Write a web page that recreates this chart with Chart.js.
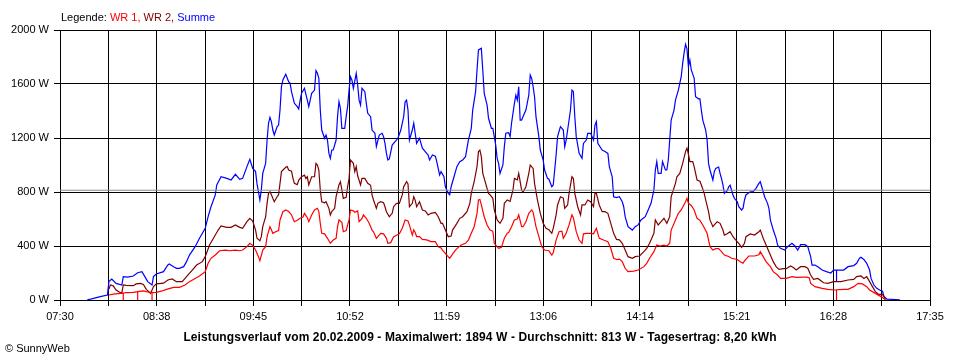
<!DOCTYPE html>
<html>
<head>
<meta charset="utf-8">
<script src="https://cdn.jsdelivr.net/npm/chart.js@4.4.1/dist/chart.umd.min.js"></script>
<style>
  body { margin: 0; background: #fff; }
  #wrap { position: relative; width: 960px; height: 360px; font-family: "Liberation Sans", Arial, sans-serif; }
  #chart { position: absolute; left: 0; top: 0; }
  .txt { position: absolute; white-space: nowrap; font-size: 11px; line-height: 12px; color: #000; }
  #legend { left: 61px; top: 11px; }
  #title { left: 0; width: 960px; top: 331px; text-align: center; font-weight: bold; font-size: 12px; line-height: 13px; letter-spacing: 0.1px; }
  #copy { left: 5px; top: 342px; }
</style>
</head>
<body>
<div id="wrap">
  <canvas id="chart" width="960" height="360"></canvas>
  <div class="txt" id="legend">Legende: <span style="color:#ff0000">WR 1,</span> <span style="color:#800000">WR 2,</span> <span style="color:#0000ff">Summe</span></div>
  <div class="txt" id="title"></div>
  <div class="txt" id="copy">© SunnyWeb</div>
</div>
<script>
// Tagesverlauf 20.02.2009 (Werte in W)
const dayLabel = '20.02.2009';
const maxWatt = 1894;
const avgWatt = 813;
const dayYield = '8,20';

const timeLabels = ['07:30', '08:38', '09:45', '10:52', '11:59', '13:06', '14:14', '15:21', '16:28', '17:35'];
const yTicks = [0, 400, 800, 1200, 1600, 2000];

const sumTimes = ['07:49','07:52','07:58','08:03','08:04','08:06','08:09','08:13','08:14','08:17','08:21','08:24','08:27','08:29','08:31','08:34','08:35','08:37','08:42','08:45','08:46','08:49','08:51','08:53','08:56','08:58','09:00','09:04','09:07','09:11','09:13','09:15','09:18','09:19','09:22','09:26','09:29','09:32','09:35','09:37','09:40','09:42','09:44','09:46','09:47','09:49','09:50','09:51','09:53','09:54','09:55','09:56','09:57','09:58','09:59','10:01','10:02','10:03','10:04','10:05','10:07','10:09','10:10','10:11','10:13','10:15','10:16','10:17','10:18','10:20','10:22','10:23','10:25','10:27','10:28','10:29','10:30','10:31','10:32','10:34','10:35','10:36','10:37','10:38','10:39','10:40','10:42','10:43','10:44','10:45','10:46','10:48','10:49','10:50','10:51','10:52','10:53','10:54','10:56','10:57','10:58','10:59','11:00','11:02','11:03','11:04','11:06','11:07','11:09','11:10','11:12','11:14','11:15','11:16','11:17','11:18','11:19','11:21','11:23','11:25','11:27','11:29','11:30','11:31','11:32','11:33','11:35','11:36','11:37','11:38','11:40','11:42','11:44','11:46','11:47','11:49','11:51','11:52','11:54','11:55','11:57','11:58','12:00','12:01','12:02','12:04','12:06','12:08','12:10','12:12','12:14','12:16','12:17','12:19','12:20','12:21','12:23','12:24','12:25','12:27','12:28','12:30','12:31','12:32','12:33','12:34','12:35','12:36','12:38','12:39','12:40','12:42','12:43','12:44','12:46','12:47','12:48','12:49','12:50','12:51','12:53','12:54','12:56','12:57','12:58','12:59','13:00','13:01','13:03','13:04','13:06','13:07','13:09','13:10','13:12','13:13','13:14','13:15','13:16','13:18','13:20','13:21','13:22','13:23','13:25','13:26','13:27','13:28','13:29','13:31','13:33','13:34','13:36','13:37','13:39','13:41','13:42','13:43','13:44','13:47','13:49','13:51','13:52','13:54','13:55','13:57','13:59','14:01','14:02','14:03','14:05','14:08','14:10','14:12','14:14','14:17','14:19','14:21','14:23','14:24','14:25','14:26','14:28','14:29','14:31','14:32','14:33','14:34','14:35','14:37','14:38','14:40','14:41','14:42','14:43','14:44','14:45','14:46','14:47','14:48','14:49','14:51','14:52','14:54','14:55','14:56','14:57','14:59','15:00','15:01','15:02','15:04','15:05','15:06','15:08','15:09','15:10','15:11','15:12','15:14','15:15','15:16','15:18','15:19','15:21','15:22','15:24','15:25','15:26','15:27','15:30','15:32','15:34','15:36','15:37','15:39','15:40','15:42','15:43','15:44','15:46','15:48','15:49','15:51','15:54','15:56','15:59','16:01','16:03','16:05','16:08','16:10','16:12','16:13','16:15','16:17','16:20','16:23','16:26','16:28','16:30','16:30','16:30','16:31','16:35','16:38','16:42','16:44','16:46','16:47','16:49','16:51','16:53','16:54','16:56','16:58','17:00','17:02','17:03','17:05','17:14'];
const sumWatts = [2,8,25,37,136,155,123,111,173,170,178,202,210,173,136,111,173,193,210,259,267,247,235,235,247,284,333,395,457,531,617,691,778,852,913,901,889,931,894,901,988,1042,975,951,860,741,815,938,1012,1185,1309,1353,1321,1259,1222,1284,1296,1407,1580,1630,1672,1617,1605,1543,1457,1432,1415,1481,1531,1568,1481,1432,1531,1555,1699,1679,1642,1407,1259,1198,1222,1185,1086,1049,1111,1111,1185,1358,1469,1420,1272,1272,1358,1432,1555,1654,1630,1568,1679,1592,1481,1444,1568,1543,1457,1383,1358,1259,1235,1136,1222,1235,1210,1160,1086,1037,1045,1148,1173,1198,1259,1358,1469,1481,1407,1185,1259,1309,1235,1160,1198,1124,1099,1074,1037,1074,1065,1025,926,951,913,839,790,780,839,913,988,1025,1037,1062,1185,1272,1407,1543,1704,1852,1864,1704,1531,1444,1346,1272,1272,1210,1148,1049,1012,938,1000,1136,1235,1240,1210,1309,1457,1518,1481,1580,1333,1333,1383,1407,1518,1667,1642,1580,1506,1358,1210,1111,1037,963,901,895,839,852,963,1074,1210,1284,1259,1136,1185,1259,1407,1555,1545,1358,1210,1086,1049,1160,1185,1235,1235,1185,1296,1321,1160,1111,1100,1086,988,913,765,758,765,728,691,617,543,518,543,556,593,617,667,716,815,963,1025,938,938,1025,963,963,1037,1185,1333,1407,1481,1555,1605,1654,1753,1830,1894,1860,1728,1778,1704,1642,1506,1490,1490,1407,1333,1259,1185,1012,963,889,950,975,985,938,900,852,790,810,839,850,778,753,728,691,667,680,741,778,802,802,827,864,876,802,765,716,679,593,518,457,407,383,370,395,420,400,370,410,410,395,321,259,259,247,222,210,200,222,222,136,222,222,222,247,255,272,309,316,300,272,222,160,111,86,74,65,25,7,2];

const wr2Times = ['08:04','08:05','08:07','08:09','08:12','08:13','08:14','08:16','08:21','08:23','08:26','08:28','08:30','08:33','08:35','08:37','08:42','08:45','08:48','08:51','08:55','08:58','09:02','09:05','09:09','09:11','09:14','09:18','09:20','09:22','09:26','09:29','09:32','09:35','09:37','09:40','09:42','09:44','09:46','09:47','09:49','09:50','09:51','09:53','09:54','09:55','09:56','09:57','09:58','09:59','10:01','10:02','10:03','10:04','10:07','10:08','10:09','10:11','10:12','10:13','10:15','10:16','10:18','10:20','10:21','10:22','10:23','10:25','10:27','10:28','10:29','10:30','10:31','10:32','10:34','10:35','10:37','10:38','10:39','10:41','10:42','10:44','10:45','10:46','10:47','10:49','10:50','10:51','10:52','10:54','10:55','10:56','10:57','10:59','11:00','11:02','11:04','11:06','11:07','11:08','11:10','11:11','11:13','11:15','11:16','11:17','11:19','11:21','11:22','11:24','11:26','11:28','11:29','11:31','11:32','11:33','11:35','11:36','11:37','11:38','11:40','11:42','11:44','11:46','11:48','11:51','11:53','11:55','11:56','11:58','12:00','12:02','12:03','12:06','12:08','12:10','12:13','12:15','12:16','12:18','12:20','12:21','12:22','12:23','12:24','12:26','12:28','12:29','12:31','12:32','12:34','12:36','12:38','12:39','12:41','12:43','12:45','12:46','12:48','12:49','12:51','12:52','12:54','12:56','12:57','12:59','13:00','13:02','13:04','13:06','13:08','13:10','13:12','13:13','13:15','13:16','13:18','13:20','13:21','13:23','13:24','13:26','13:27','13:28','13:30','13:32','13:33','13:35','13:37','13:39','13:41','13:42','13:43','13:45','13:47','13:49','13:51','13:53','13:55','13:57','13:59','14:01','14:03','14:05','14:08','14:10','14:13','14:16','14:18','14:20','14:23','14:24','14:26','14:28','14:30','14:32','14:34','14:35','14:38','14:39','14:41','14:43','14:45','14:46','14:47','14:48','14:50','14:51','14:53','14:55','14:56','14:58','14:59','15:01','15:02','15:04','15:05','15:07','15:09','15:11','15:12','15:14','15:16','15:18','15:20','15:22','15:24','15:26','15:27','15:30','15:33','15:36','15:37','15:39','15:41','15:44','15:46','15:48','15:50','15:53','15:55','15:58','16:00','16:02','16:05','16:08','16:10','16:12','16:14','16:17','16:21','16:24','16:28','16:33','16:38','16:42','16:44','16:47','16:49','16:51','16:53','16:55','16:57','16:59','17:02','17:03','17:04'];
const wr2Watts = [80,111,105,74,54,52,111,108,106,119,123,115,79,49,99,119,125,148,156,136,136,173,222,259,284,321,407,481,518,548,538,538,556,538,531,580,605,585,518,457,439,469,543,617,716,790,802,780,753,728,765,780,864,951,983,988,963,955,901,864,855,889,913,925,900,913,852,913,913,1012,1000,963,815,728,720,728,679,630,655,679,765,852,876,815,753,760,839,900,1037,1012,951,988,920,852,901,901,864,850,778,741,679,716,728,720,691,654,617,642,691,716,716,778,839,876,860,691,716,765,740,691,728,667,660,630,642,648,617,568,568,518,469,474,518,568,605,617,654,716,790,876,988,1099,1110,1062,938,864,790,780,753,667,593,568,605,716,741,730,815,901,890,938,815,800,839,938,1000,975,864,741,642,568,531,520,494,531,630,704,765,755,679,704,790,913,900,790,691,630,704,704,741,728,691,790,790,704,654,654,642,568,494,449,445,420,370,321,309,321,326,358,383,420,494,593,556,580,605,568,617,765,864,913,938,1012,1099,1124,1080,1025,1025,988,889,880,852,790,741,654,593,543,556,580,568,518,481,490,506,469,444,420,390,420,469,489,481,506,518,457,407,333,284,247,227,232,232,252,240,222,247,247,235,185,153,160,128,123,136,136,148,153,173,178,160,173,136,99,62,44,40,25,2];

const wr1Times = ['08:04','08:07','08:12','08:14','08:14','08:14','08:16','08:21','08:23','08:24','08:24','08:24','08:28','08:30','08:33','08:34','08:34','08:34','08:37','08:41','08:44','08:49','08:53','08:57','09:00','09:04','09:07','09:11','09:13','09:15','09:18','09:21','09:25','09:28','09:32','09:35','09:37','09:40','09:42','09:44','09:46','09:48','09:49','09:51','09:53','09:54','09:56','09:57','09:58','10:00','10:02','10:03','10:05','10:07','10:09','10:11','10:13','10:15','10:17','10:19','10:20','10:22','10:23','10:25','10:27','10:29','10:30','10:31','10:32','10:34','10:36','10:38','10:40','10:42','10:43','10:44','10:46','10:47','10:49','10:51','10:52','10:54','10:55','10:57','10:58','11:00','11:01','11:03','11:05','11:07','11:08','11:10','11:13','11:15','11:17','11:18','11:20','11:22','11:24','11:26','11:28','11:30','11:32','11:33','11:35','11:36','11:37','11:38','11:40','11:42','11:45','11:48','11:51','11:53','11:55','11:56','11:59','12:01','12:02','12:05','12:07','12:09','12:12','12:14','12:16','12:18','12:20','12:21','12:22','12:23','12:25','12:27','12:29','12:31','12:32','12:35','12:37','12:39','12:41','12:42','12:44','12:46','12:48','12:49','12:51','12:52','12:54','12:56','12:58','12:59','13:01','13:03','13:05','13:07','13:10','13:12','13:13','13:15','13:17','13:19','13:20','13:22','13:24','13:26','13:27','13:29','13:31','13:33','13:34','13:36','13:39','13:41','13:43','13:45','13:48','13:51','13:53','13:55','13:57','13:59','14:01','14:03','14:05','14:09','14:12','14:16','14:18','14:20','14:23','14:25','14:27','14:30','14:32','14:34','14:35','14:38','14:40','14:42','14:45','14:46','14:47','14:49','14:51','14:53','14:55','14:57','15:00','15:02','15:04','15:06','15:08','15:10','15:12','15:15','15:17','15:21','15:23','15:25','15:26','15:29','15:33','15:36','15:37','15:39','15:41','15:44','15:46','15:49','15:51','15:55','15:59','16:02','16:06','16:09','16:11','16:12','16:15','16:20','16:24','16:29','16:30','16:30','16:30','16:35','16:38','16:42','16:45','16:48','16:51','16:53','16:57','17:01','17:04'];
const wr1Watts = [37,44,49,50,0,52,54,56,60,60,0,62,67,62,57,57,0,55,57,67,79,94,94,111,136,160,178,210,272,309,333,365,370,365,370,365,370,395,420,405,370,321,291,370,395,469,543,520,494,505,515,593,654,667,655,630,580,590,605,615,642,610,580,630,667,679,655,568,494,490,457,420,444,457,543,593,575,506,515,593,667,660,650,660,580,605,630,605,568,518,505,457,494,490,457,420,425,469,480,490,531,593,585,555,481,520,500,470,470,449,445,432,432,395,385,370,333,309,325,370,390,407,420,444,494,543,642,741,745,704,617,556,518,510,420,383,390,457,494,500,543,593,600,630,543,543,580,642,667,650,543,469,395,370,365,333,350,444,506,510,457,494,556,630,610,506,444,420,490,494,494,490,531,457,444,432,383,309,300,303,284,235,210,214,222,247,272,309,358,407,400,407,400,420,518,593,642,667,728,753,716,700,667,605,590,556,494,395,370,380,380,358,333,322,309,300,284,272,290,326,326,335,358,321,284,247,210,185,160,160,173,168,170,170,165,123,99,86,79,74,74,0,76,79,79,99,123,119,99,74,49,25,2];

const toMin = s => { const p = s.split(':'); return Number(p[0]) * 60 + Number(p[1]); };
const pts = (times, watts) => times.map((t, i) => ({ x: toMin(t), y: watts[i] }));

const xMin = toMin(timeLabels[0]);
const xMax = toMin(timeLabels[timeLabels.length - 1]);
const xGridSteps = (timeLabels.length - 1) * 2;

document.getElementById('title').textContent =
  'Leistungsverlauf vom ' + dayLabel + ' - Maximalwert: ' + maxWatt + ' W - Durchschnitt: ' +
  avgWatt + ' W - Tagesertrag: ' + dayYield + ' kWh';

const tickFont = { family: '"Liberation Sans", Arial, sans-serif', size: 11 };

new Chart(document.getElementById('chart'), {
  type: 'line',
  data: {
    datasets: [
      { label: 'Durchschnitt', data: [{ x: xMin, y: avgWatt }, { x: xMax, y: avgWatt }], borderColor: '#8c8c8c', borderWidth: 1 },
      { label: 'WR 1', data: pts(wr1Times, wr1Watts), borderColor: '#ff0000', borderWidth: 1.2 },
      { label: 'WR 2', data: pts(wr2Times, wr2Watts), borderColor: '#800000', borderWidth: 1.2 },
      { label: 'Summe', data: pts(sumTimes, sumWatts), borderColor: '#0000ff', borderWidth: 1.2 }
    ]
  },
  options: {
    responsive: false,
    animation: false,
    devicePixelRatio: 1,
    layout: { padding: { top: 30, right: 30, left: 0, bottom: 0 } },
    elements: { point: { radius: 0 }, line: { tension: 0 } },
    plugins: { legend: { display: false }, tooltip: { enabled: false } },
    scales: {
      x: {
        type: 'linear',
        min: xMin,
        max: xMax,
        afterBuildTicks: scale => {
          const ticks = [];
          for (let i = 0; i <= xGridSteps; i++) ticks.push({ value: xMin + i * (xMax - xMin) / xGridSteps });
          scale.ticks = ticks;
        },
        afterFit: scale => { scale.height = 60; },
        ticks: {
          autoSkip: false, maxRotation: 0, minRotation: 0, padding: 4,
          color: '#000', font: tickFont,
          callback: (v, i) => (i % 2 === 0 ? timeLabels[i / 2] : '')
        },
        grid: { color: '#000', lineWidth: 1, tickLength: 6 },
        border: { color: '#000' }
      },
      y: {
        min: 0,
        max: 2000,
        afterBuildTicks: scale => { scale.ticks = yTicks.map(v => ({ value: v })); },
        afterFit: scale => { scale.width = 60; },
        ticks: { padding: 5, color: '#000', font: tickFont, callback: v => v + ' W' },
        grid: { color: '#000', lineWidth: 1, tickLength: 6 },
        border: { color: '#000' }
      }
    }
  }
});
</script>
</body>
</html>
